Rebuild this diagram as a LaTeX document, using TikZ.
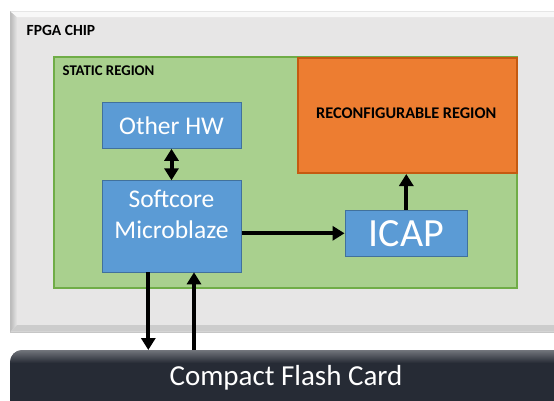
\documentclass[tikz,border=0pt]{standalone}
\usepackage{fontspec}
\setmainfont{Carlito}
\usetikzlibrary{arrows.meta,calc}
\definecolor{chipfill}{RGB}{231,230,230}
\definecolor{statfill}{RGB}{169,208,142}
\definecolor{statline}{RGB}{112,173,71}
\definecolor{recfill}{RGB}{237,125,49}
\definecolor{recline}{RGB}{197,90,17}
\definecolor{blkfill}{RGB}{91,155,213}
\definecolor{blkline}{RGB}{65,113,156}
\definecolor{cardfill}{RGB}{38,43,53}
\tikzset{
  blk/.style={draw=blkline, fill=blkfill, line width=1pt, text=white, inner sep=0pt, align=center},
  region/.style={line width=2pt, inner sep=0pt},
  hdr/.style={text=black, inner sep=0pt, anchor=west},
  arr/.style={line width=4pt, -{Triangle[width=14pt,length=12pt]}},
  darr/.style={line width=4pt, {Triangle[width=14pt,length=12pt]}-{Triangle[width=14pt,length=12pt]}},
}
\begin{document}
\begin{tikzpicture}[x=1pt,y=-1pt]
\useasboundingbox (0,0) rectangle (554,400);
\fill[white] (0,0) rectangle (554,400);
% FPGA chip
\node[fill=chipfill, draw=gray!45, line width=0.6pt, minimum width=560pt, minimum height=321pt, anchor=north west, inner sep=0pt] (chip) at (10,11) {};
\shade[left color=gray!55, right color=chipfill] (10.3,11.3) -- (17,17) -- (17,325) -- (10.3,331.7) -- cycle;
\fill[white!70!chipfill] (10.3,11.3) -- (17,17) -- (560,17) -- (560,11.3) -- cycle;
\fill[gray!40] (10.3,331.7) -- (17,325) -- (560,325) -- (560,331.7) -- cycle;
\node[hdr, font=\bfseries\fontsize{15.5}{17}\selectfont] (chiplbl) at (26.5,30) {FPGA CHIP};
% static region
\node[region, draw=statline, fill=statfill, minimum width=463pt, minimum height=231pt, anchor=north west] (static) at (53,56) {};
\node[hdr, font=\bfseries\fontsize{14.8}{17}\selectfont] (statlbl) at (62.5,71) {STATIC REGION};
% reconfigurable region
\node[region, draw=recline, fill=recfill, minimum width=219pt, minimum height=115pt, anchor=north west] (rec) at (297,57) {};
\node[hdr, anchor=center, font=\bfseries\fontsize{16.3}{18}\selectfont] (reclbl) at (406.2,113) {RECONFIGURABLE REGION};
% blocks
\node[blk, minimum width=139pt, minimum height=46pt, font=\fontsize{25.5}{28}\selectfont] (other) at (171.5,125.3) {Other HW};
\node[blk, minimum width=139pt, minimum height=92pt, anchor=north] (soft) at (171.5,180.3) {};
\node[text=white, align=center, inner sep=0pt, font=\fontsize{25.5}{31}\selectfont] (softlbl) at (171.5,214) {Softcore\\Microblaze};
\node[blk, minimum width=122.5pt, minimum height=46.5pt, font=\fontsize{40}{44}\selectfont] (icap) at (406.3,233.3) {ICAP};
% compact flash card
\node[fill=cardfill, rounded corners=12pt, minimum width=580pt, minimum height=70pt, anchor=north west, inner sep=0pt] (card) at (10,350) {};
\begin{scope}
\clip[rounded corners=12pt] (10,350) rectangle (600,430);
\shade[top color=cardfill!65!white, bottom color=cardfill] (10,350) rectangle (600,363);
\end{scope}
\node[text=white, inner sep=0pt, font=\fontsize{29}{32}\selectfont] (cardlbl) at (286,378) {Compact Flash Card};
% connectors
\draw[darr] (other.south) -- (soft.north);
\draw[arr] (soft.east |- icap.west) -- (icap.west);
\draw[arr] (icap.north) -- (icap.north |- rec.south);
\coordinate (dtop) at (148.3,272.3);
\coordinate (utop) at (194,272.3);
\draw[arr] (dtop) -- (dtop |- card.north);
\draw[arr] (utop |- card.north) -- (utop);
\end{tikzpicture}
\end{document}
